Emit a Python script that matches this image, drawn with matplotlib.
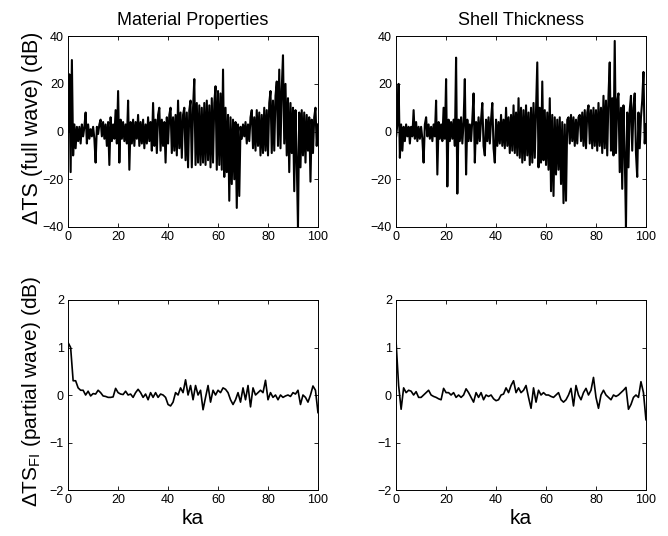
import numpy as np
import matplotlib
matplotlib.use("Agg")
from matplotlib import pyplot as plt

plt.rcParams['font.family'] = ['Liberation Sans', 'DejaVu Sans']
plt.rcParams['mathtext.fontset'] = 'custom'
plt.rcParams['mathtext.rm'] = 'Liberation Sans'

# ka grids
ka_full = np.arange(0, 100.5, 0.5)
ka_part = np.arange(0, 101, 1)

# delta TS, full wave, material properties (dB), 0.5 ka steps
full_material = [
    0, 24, -17, 30, -10, 3, -7, 2, -4, 2, -5, 3, -2, 2, 8, -5, 3, -3, 1, -2,
    2, -3, -13, 2, -1, 3, 5, -2, 4, -3, 3, -6, 4, -14, 6, -4, 3, -3, 9, -5,
    17, -13, 5, -3, 4, -4, 3, -5, 13, -16, 4, -5, 5, -6, 4, -3, 7, -6, 4, -5,
    5, -7, 3, -5, 6, -4, 4, -8, 12, -6, 5, -9, 7, 10, -8, 5, -6, 4, -13, 6,
    -5, 7, 10, -9, 6, -8, 7, -10, 13, -7, 8, -11, 7, 10, -12, 8, -15, 9, 13, -15,
    10, 22, -14, 12, -13, 11, -14, 10, -13, 12, -14, 13, -12, 11, -15, 14, -13, 12, 19, -16,
    17, -14, 16, -16, 26, -19, 10, -17, 7, -29, 6, -22, 5, -20, 4, -32, 3, -27, 2, -3,
    3, -2, 4, -5, 3, -4, 6, 9, -7, 6, -8, 9, -6, 8, -10, 7, -9, 10, -8, 9,
    -10, 12, 17, -9, 13, -8, 15, 21, -6, 26, -7, 18, 32, -5, 20, -10, 14, -17, 12, -9,
    10, -25, 9, -12, -42, 8, -15, 9, -10, 8, -13, 7, -8, 6, -21, 5, -9, 6, 10, -6,
    3,
]

# delta TS, full wave, shell thickness (dB), 0.5 ka steps
full_shell = [
    -2, 3, 20, -11, 3, -8, 2, -4, 3, -2, 2, -5, 2, -2, 9, -3, 4, -4, 2, -3,
    2, -3, -13, 3, 6, -2, 3, -3, 2, -4, 3, -2, 13, -18, 4, -3, 3, -4, 10, -3,
    22, -23, 5, -4, 4, -3, 5, -6, 31, -26, 5, -4, 6, -5, 4, 22, -18, 5, -4, 3,
    -4, 5, 16, -13, 4, -5, 6, -4, 5, 12, -6, -10, 5, -4, 6, -5, 5, 12, -7, -13,
    5, -6, 4, -5, 7, -6, 5, -7, 10, -6, 6, -9, 7, -8, 11, -9, 8, -10, 14, -11,
    10, -13, 9, -12, 11, -10, 8, -14, 10, -13, 12, -11, 9, 29, -15, 10, -13, 21, -12, 9,
    -14, 8, -16, 14, -25, 7, -27, 6, -18, 5, -16, 6, -22, 4, -30, 3, -29, 5, 6, -5,
    7, -4, 6, -6, 5, -5, 6, 7, -4, 8, -6, 9, -7, 8, 11, -5, 9, -7, 10, -6,
    9, -8, 12, -6, 10, -9, 15, -7, 13, -10, 15, 29, -8, 14, -10, 38, -9, 13, 16, -17,
    10, -24, 11, -9, -41, 8, -15, 9, 15, -8, 10, 16, -9, -19, 8, -7, 6, 13, 25, -5,
    3,
]

# delta TS_FI, partial wave, material properties (dB), 1 ka steps
part_material = [
    1.1, 1.0, 0.3, 0.3, 0.15, 0.1, 0.1, 0.0, 0.08, -0.02,
    0.03, 0.02, 0.1, 0.05, -0.02, -0.03, -0.05, -0.05, -0.04, 0.14,
    0.05, 0.02, 0.01, 0.08, 0.0, 0.02, -0.05, 0.05, 0.12, 0.05,
    -0.05, 0.02, -0.1, 0.05, -0.05, 0.05, -0.05, 0.02, 0.0, -0.05,
    -0.2, -0.23, -0.15, 0.05, 0.0, 0.15, 0.05, 0.32, 0.0, 0.2,
    -0.1, 0.2, 0.0, 0.1, -0.31, -0.05, 0.2, -0.15, 0.1, 0.0,
    0.1, 0.05, 0.15, 0.12, 0.05, -0.1, -0.2, -0.1, 0.05, -0.15,
    0.15, -0.1, 0.2, -0.25, 0.15, 0.0, 0.05, 0.1, 0.05, 0.31,
    -0.1, 0.05, -0.05, 0.0, -0.1, 0.0, -0.05, -0.02, 0.0, -0.03,
    0.05, 0.02, 0.1, -0.2, 0.0, -0.05, -0.15, 0.0, 0.19, 0.1,
    -0.37,
]

# delta TS_FI, partial wave, shell thickness (dB), 1 ka steps
part_shell = [
    1.1, 0.2, -0.3, 0.15, 0.05, 0.1, 0.08, 0.0, 0.07, -0.05,
    -0.05, 0.0, 0.05, 0.1, 0.0, -0.03, -0.05, -0.08, -0.1, 0.14,
    0.05, 0.05, 0.0, 0.05, -0.05, 0.0, -0.05, 0.0, 0.13, 0.05,
    -0.05, -0.15, 0.05, -0.05, 0.05, -0.1, 0.0, -0.03, 0.0, -0.08,
    -0.12, -0.1, 0.0, 0.02, 0.15, 0.05, 0.2, 0.3, 0.05, 0.15,
    0.05, 0.1, 0.2, -0.05, -0.28, 0.15, -0.15, 0.1, 0.0, 0.05,
    0.0, 0.0, -0.03, -0.05, 0.0, 0.05, -0.1, -0.15, -0.1, 0.0,
    0.14, -0.23, 0.2, 0.0, -0.1, 0.05, 0.14, 0.0, 0.1, 0.37,
    -0.05, -0.28, 0.0, 0.1, 0.0, -0.05, -0.1, 0.0, -0.03, 0.0,
    0.05, 0.1, 0.16, -0.3, -0.2, -0.05, 0.0, -0.05, 0.28, 0.05,
    -0.52,
]

titles = ['Material Properties', 'Shell Thickness']

fig = plt.figure(figsize=(6.68, 5.36), dpi=100)

lefts = [0.102, 0.593]
w, h = 0.374, 0.356
axes_top = [fig.add_axes([l, 0.5765, w, h]) for l in lefts]
axes_bot = [fig.add_axes([l, 0.0858, w, 0.3545]) for l in lefts]


def style(ax):
    ax.tick_params(direction='in', top=True, right=True, length=3,
                   width=0.6, labelsize=9, pad=3)
    for s in ax.spines.values():
        s.set_linewidth(0.7)
    ax.set_xlim(0, 100)
    ax.set_xticks([0, 20, 40, 60, 80, 100])


for ax, data, t in zip(axes_top, [full_material, full_shell], titles):
    ax.plot(ka_full, np.clip(data, -40, 40), color='black', lw=1.5)
    style(ax)
    ax.set_ylim(-40, 40)
    ax.set_yticks([-40, -20, 0, 20, 40])
    ax.set_title(t, fontsize=13, pad=8)

for ax, data in zip(axes_bot, [part_material, part_shell]):
    ax.plot(ka_part, data, color='black', lw=1.2)
    style(ax)
    ax.set_ylim(-2, 2)
    ax.set_yticks([-2, -1, 0, 1, 2])
    ax.set_xlabel('ka', fontsize=15, labelpad=2)

axes_top[0].set_ylabel('ΔTS (full wave) (dB)', fontsize=15.5)
axes_bot[0].set_ylabel('ΔTS$_{\\mathrm{FI}}$ (partial wave) (dB)', fontsize=15)
axes_top[0].yaxis.set_label_coords(-0.1, 0.52)
axes_bot[0].yaxis.set_label_coords(-0.1, 0.52)

fig.savefig('out.png', dpi=100)
